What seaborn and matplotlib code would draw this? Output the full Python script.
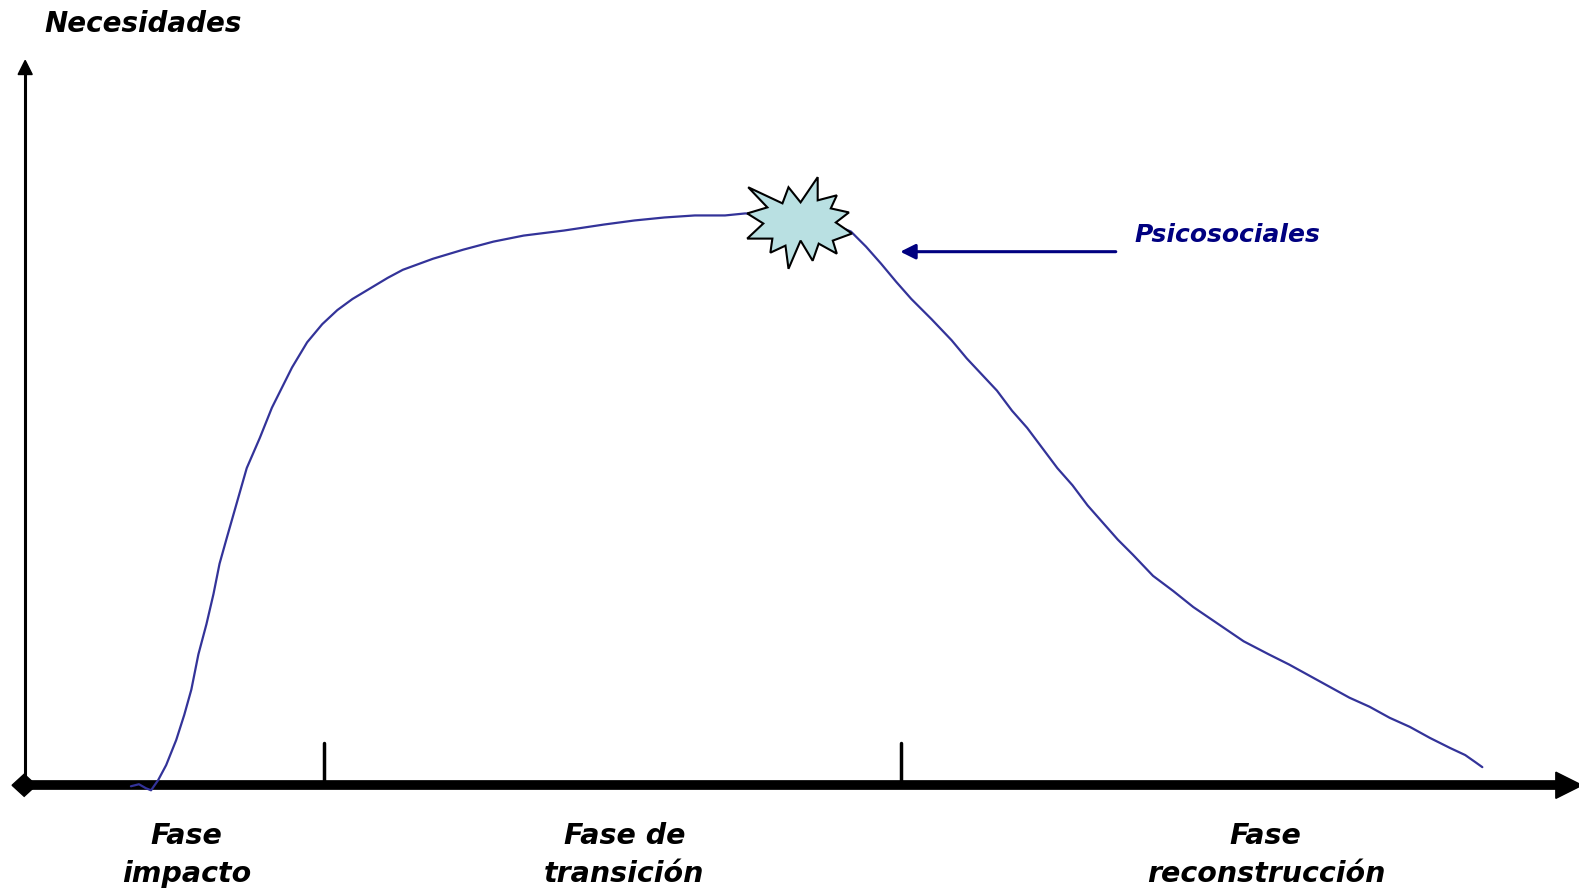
import numpy as np
import pandas as pd
import matplotlib.pyplot as plt
from matplotlib.patches import Polygon
import seaborn as sns

# Curva de necesidades psicosociales (tiempo, nivel de necesidad)
tiempo = [105, 113, 120, 125, 132, 140, 150, 158, 165, 172, 180, 187, 193, 200,
          210, 220, 233, 245, 265, 280, 295, 310, 325, 345, 360, 375, 405, 435,
          465, 495, 535, 575, 605, 635, 665, 695, 715, 735, 765, 795, 820,
          835, 850, 865, 880, 900, 920, 935, 950, 965, 980, 995, 1010, 1025,
          1040, 1055, 1070, 1085, 1100, 1120, 1140, 1160, 1185, 1210, 1235,
          1255, 1275, 1295, 1315, 1335, 1355, 1375, 1395, 1415, 1430, 1440, 1447]
necesidad = [-1, 1, -3, -5, 5, 20, 45, 70, 95, 130, 160, 190, 220, 245,
             280, 315, 345, 375, 415, 440, 458, 472, 483, 495, 504, 512, 523, 532,
             540, 546, 551, 557, 561, 564, 566, 566, 568, 567, 565, 560, 550,
             535, 518, 500, 483, 463, 442, 424, 408, 392, 372, 355, 335, 315,
             298, 278, 261, 244, 229, 208, 193, 177, 160, 143, 130,
             120, 109, 98, 87, 78, 67, 58, 47, 37, 30, 23, 18]

fases = ["Fase\nimpacto", "Fase de\ntransición", "Fase\nreconstrucción"]
fases_x = [160, 595, 1232]
limites_fase = [297, 870]

# Estrella (pico de la curva)
estrella_x = [718, 752, 758, 770, 787, 787, 806, 800, 818, 805, 821, 802, 806,
              788, 782, 770, 758, 755, 740, 742, 717, 733, 717, 737]
estrella_y = [594, 578, 594, 579, 604, 581, 586, 573, 569, 559, 548, 541, 528,
              538, 521, 541, 513, 536, 529, 543, 543, 558, 568, 574]

df = pd.DataFrame({"tiempo": tiempo, "necesidad": necesidad})

sns.set_style("white")
plt.rcParams['font.family'] = ['DejaVu Sans']
plt.rcParams['text.color'] = 'black'

fig = plt.figure(figsize=(15.79, 8.96), dpi=100)
ax = fig.add_axes([0, 0, 1, 1])
ax.set_xlim(-25, 1543)
ax.set_ylim(-110, 780)
ax.axis("off")

sns.lineplot(data=df, x="tiempo", y="necesidad", sort=False, color="#333399",
             linewidth=1.6, ax=ax, zorder=3)

# ejes
ax.plot([0, 0], [0, 706], color="black", lw=2.2, solid_capstyle="butt", zorder=2)
ax.add_patch(Polygon([[-7, 706], [7, 706], [0, 720]], closed=True,
                     color="black", zorder=2))
ax.plot([-5, 1525], [0, 0], color="black", lw=7, solid_capstyle="butt", zorder=2)
ax.add_patch(Polygon([[1520, 13], [1546, 0], [1520, -13]], closed=True,
                     color="black", zorder=2))
ax.add_patch(Polygon([[-13, 0], [-1, 11], [11, 0], [-1, -11]], closed=True,
                     color="black", zorder=2))
for lx in limites_fase:
    ax.plot([lx, lx], [0, 42], color="black", lw=2.5, solid_capstyle="round", zorder=2)

ax.add_patch(Polygon(list(zip(estrella_x, estrella_y)), closed=True,
                     facecolor="#b9e0e2", edgecolor="black", lw=1.5, zorder=4))

# flecha Psicosociales
ax.annotate("", xy=(869, 530), xytext=(1083, 530),
            arrowprops=dict(arrowstyle="-|>,head_length=0.9,head_width=0.45",
                            color="#000080", lw=2.2, shrinkA=0, shrinkB=0))
ax.text(1102, 547, "Psicosociales", color="#000080", fontsize=18, fontweight="bold",
        fontstyle="italic", va="center", ha="left")

ax.text(19, 756, "Necesidades", color="black", fontsize=20, fontweight="bold",
        fontstyle="italic", va="center", ha="left")

for fx, nombre in zip(fases_x, fases):
    ax.text(fx, -69, nombre, color="black", fontsize=20.5, fontweight="bold",
            fontstyle="italic", ha="center", va="center", linespacing=1.45)

fig.savefig("out.png", dpi=100)
